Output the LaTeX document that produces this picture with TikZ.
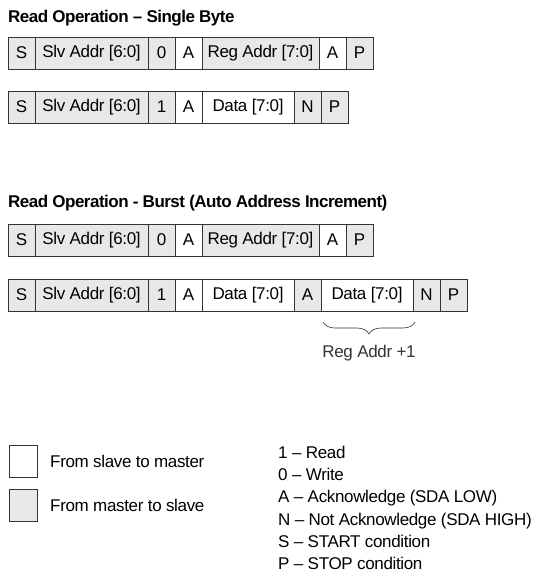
\documentclass[tikz,border=0pt]{standalone}
\usepackage{fontspec}
\setmainfont{Liberation Sans}[LetterSpace=-2]
\newfontfamily\ttlfont{Liberation Sans}[LetterSpace=-3]
\usepackage{tikz}
\usetikzlibrary{positioning,decorations.pathreplacing}
\definecolor{i2c-master}{HTML}{E8E8E8}
\definecolor{i2c-line}{HTML}{333333}

\begin{document}
\begin{tikzpicture}[x=1pt,y=-1pt,
    txt/.style={font=\fontsize{17}{22.2}\selectfont, inner sep=0pt},
    cell/.style={txt, draw=i2c-line, line width=0.8pt, outer sep=0pt,
        minimum height=32pt, minimum width=27pt},
    mst/.style={cell, fill=i2c-master},
    slv/.style={cell, fill=white},
    ttl/.style={font=\ttlfont\fontsize{17}{18}\selectfont\bfseries, inner sep=0pt, anchor=west}]
    \useasboundingbox (0,0) rectangle (534,578);

    % single byte read
    \node[ttl] (t1) at (8,18) {Read Operation – Single Byte};
    \node[mst, anchor=west] (a1) at (8,53) {S};
    \node[mst, minimum width=113pt, right=0pt of a1] (a2) {Slv Addr [6:0]};
    \node[mst, right=0pt of a2] (a3) {0};
    \node[slv, right=0pt of a3] (a4) {A};
    \node[mst, minimum width=117pt, right=0pt of a4] (a5) {Reg Addr [7:0]};
    \node[slv, right=0pt of a5] (a6) {A};
    \node[mst, right=0pt of a6] (a7) {P};

    \node[mst, anchor=west] (b1) at (8,107) {S};
    \node[mst, minimum width=113pt, right=0pt of b1] (b2) {Slv Addr [6:0]};
    \node[mst, right=0pt of b2] (b3) {1};
    \node[slv, right=0pt of b3] (b4) {A};
    \node[slv, minimum width=92pt, right=0pt of b4] (b5) {Data [7:0]};
    \node[mst, right=0pt of b5] (b6) {N};
    \node[mst, right=0pt of b6] (b7) {P};

    % burst read
    \node[ttl] (t2) at (8,203) {Read Operation - Burst (Auto Address Increment)};
    \node[mst, anchor=west] (c1) at (8,240) {S};
    \node[mst, minimum width=113pt, right=0pt of c1] (c2) {Slv Addr [6:0]};
    \node[mst, right=0pt of c2] (c3) {0};
    \node[slv, right=0pt of c3] (c4) {A};
    \node[mst, minimum width=117pt, right=0pt of c4] (c5) {Reg Addr [7:0]};
    \node[slv, right=0pt of c5] (c6) {A};
    \node[mst, right=0pt of c6] (c7) {P};

    \node[mst, anchor=west] (d1) at (8,295) {S};
    \node[mst, minimum width=113pt, right=0pt of d1] (d2) {Slv Addr [6:0]};
    \node[mst, right=0pt of d2] (d3) {1};
    \node[slv, right=0pt of d3] (d4) {A};
    \node[slv, minimum width=92pt, right=0pt of d4] (d5) {Data [7:0]};
    \node[mst, right=0pt of d5] (d6) {A};
    \node[slv, minimum width=92pt, right=0pt of d6] (d7) {Data [7:0]};
    \node[mst, right=0pt of d7] (d8) {N};
    \node[mst, right=0pt of d8] (d9) {P};

    \draw[i2c-line, line width=0.6pt, decorate, decoration={brace, mirror, amplitude=12pt}]
        ([xshift=2pt, yshift=-11pt]d7.south west) -- ([xshift=2pt, yshift=-11pt]d7.south east)
        node[txt, midway, below=23pt] (inc) {Reg Addr +1};

    % legend
    \node[slv, minimum width=28pt, anchor=west] (k1) at (9,461) {};
    \node[txt, right=13pt of k1] (k1t) {From slave to master};
    \node[mst, minimum width=28pt, anchor=west] (k2) at (9,505) {};
    \node[txt, right=13pt of k2] (k2t) {From master to slave};
    \node[txt, align=left, anchor=north west] (codes) at (278,446)
        {1 – Read\\0 – Write\\A – Acknowledge (SDA LOW)\\N – Not Acknowledge (SDA HIGH)\\S – START condition\\P – STOP condition};
\end{tikzpicture}
\end{document}
